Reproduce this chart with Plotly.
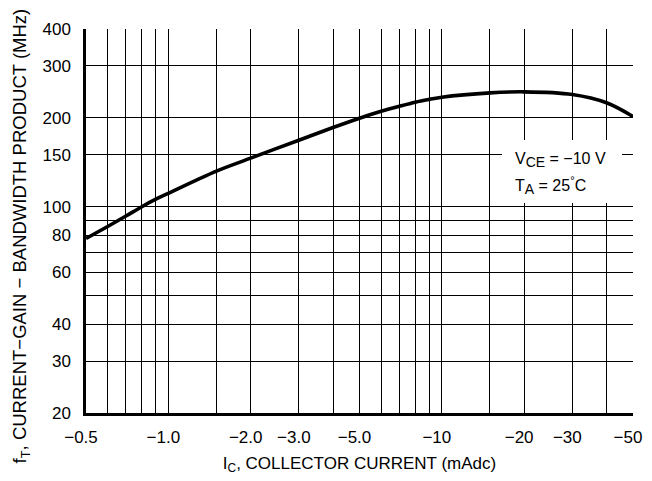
import math
import plotly.graph_objects as go

# Collector current magnitude (mAdc) and fT (MHz)
ic_ma = [0.5, 0.6, 0.7, 0.8, 0.9, 1.0, 1.5, 2.0, 3.0, 4.0, 5.0, 6.0, 7.0, 8.0, 9.0, 10.0, 15.0, 20.0, 30.0, 40.0, 50.0]
ft_mhz = [78, 85.7, 93, 100, 106, 111, 132, 146, 168, 185.5, 199.5, 210.5, 219, 226, 231, 235, 243, 245, 240, 225, 202]

x_grid = [0.5, 0.6, 0.7, 0.8, 0.9, 1.0, 1.5, 2.0, 3.0, 4.0, 5.0, 6.0, 7.0, 8.0, 9.0, 10.0, 15.0, 20.0, 30.0, 40.0, 50.0]
x_labels = {0.5: "−0.5", 1.0: "−1.0", 2.0: "−2.0", 3.0: "−3.0", 5.0: "−5.0",
            10.0: "−10", 20.0: "−20", 30.0: "−30", 50.0: "−50"}
y_grid = [20, 30, 40, 50, 60, 70, 80, 90, 100, 150, 200, 300, 400]
y_labels = {20: "20", 30: "30", 40: "40", 60: "60", 80: "80", 100: "100",
            150: "150", 200: "200", 300: "300", 400: "400"}

FONT = "Liberation Sans Narrow, Arial Narrow, Liberation Sans, Arial, sans-serif"

fig = go.Figure()
fig.add_trace(go.Scatter(x=ic_ma, y=ft_mhz, mode="lines",
                         line=dict(color="black", width=3.6, shape="spline", smoothing=1.0),
                         hoverinfo="skip", showlegend=False))

fig.update_xaxes(type="log", range=[math.log10(0.5), math.log10(50)],
                 tickmode="array", tickvals=x_grid, ticktext=[x_labels.get(v, "") for v in x_grid],
                 showgrid=True, gridcolor="black", gridwidth=1.3,
                 showline=True, linecolor="black", linewidth=2.5, mirror=False,
                 ticks="", ticklabelstandoff=7, ticklabelshift=-5, zeroline=False,
                 automargin=False,
                 tickfont=dict(family=FONT, size=17, color="black"),
                 title=dict(text="I<sub>C</sub>, COLLECTOR CURRENT (mAdc)", standoff=11,
                            font=dict(family=FONT, size=17, color="black")))
fig.update_yaxes(type="log", range=[math.log10(20), math.log10(400)],
                 tickmode="array", tickvals=y_grid, ticktext=[y_labels.get(v, "") for v in y_grid],
                 showgrid=True, gridcolor="black", gridwidth=1.3,
                 showline=True, linecolor="black", linewidth=2.5, mirror=False,
                 ticks="", ticklabelstandoff=9, zeroline=False,
                 automargin=False,
                 tickfont=dict(family=FONT, size=17, color="black"))

# y-axis title as a rotated annotation so it can sit slightly below the plot centre like the reference
fig.add_annotation(xref="paper", yref="paper", x=-0.118, y=0.461, xanchor="center", yanchor="middle",
                   text="f<sub>T</sub>, CURRENT−GAIN − BANDWIDTH PRODUCT (MHz)", textangle=-90,
                   showarrow=False, font=dict(family=FONT, size=18.5, color="black"))

# white box behind the conditions note (covers the grid)
fig.add_shape(type="rect", xref="paper", yref="paper", x0=0.7605, x1=0.98, y0=0.547, y1=0.711,
              fillcolor="white", line=dict(width=0), layer="above")
fig.add_annotation(xref="paper", yref="paper", x=0.7805, y=0.659, xanchor="left", yanchor="middle",
                   text="V<sub><span style='font-size:14px'>CE</span></sub> = −10 V",
                   showarrow=False, align="left", font=dict(family=FONT, size=16, color="black"))
fig.add_annotation(xref="paper", yref="paper", x=0.7805, y=0.593, xanchor="left", yanchor="middle",
                   text="T<sub><span style='font-size:14px'>A</span></sub> = 25<sup>°</sup>C",
                   showarrow=False, align="left", font=dict(family=FONT, size=16, color="black"))

# the page body adds an 8 px offset, so the figure is sized to fit the 652x481 window
fig.update_layout(width=644, height=473, margin=dict(l=78, r=19, t=21, b=68),
                  plot_bgcolor="white", paper_bgcolor="white")
fig.write_html("out.html")
